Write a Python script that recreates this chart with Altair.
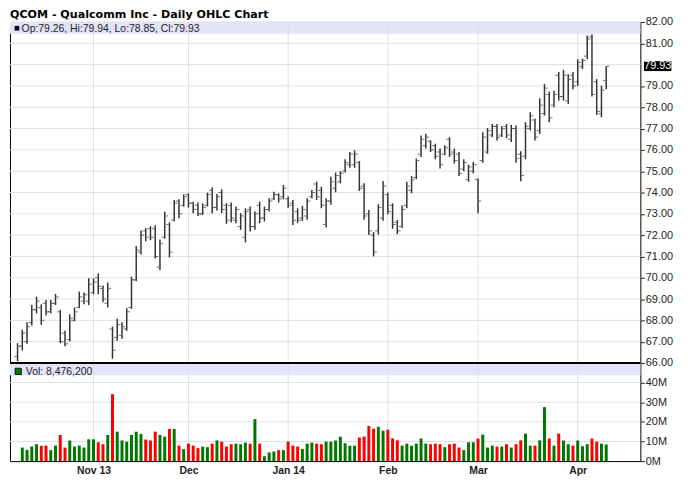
import altair as alt
import pandas as pd

TITLE = "QCOM - Qualcomm Inc - Daily OHLC Chart"
PRICE_LEGEND = "Op:79.26, Hi:79.94, Lo:78.85, Cl:79.93"
VOL_LEGEND = "Vol: 8,476,200"
LAST_CLOSE = 79.93

# trading-day index 0 = 9 Oct 2013 ... 124 = 9 Apr 2014
high = [66.93, 67.56, 67.91, 68.72, 69.11, 68.75, 68.96, 68.96, 69.24, 68.49,
        67.51, 68.29, 68.60, 69.35, 69.31, 69.97, 69.97, 70.20, 69.63, 69.78,
        67.71, 68.07, 67.91, 68.57, 70.05, 71.49, 72.22, 72.33, 72.42, 72.46,
        71.80, 73.10, 72.60, 73.65, 73.68, 73.91, 73.96, 73.57, 73.53, 73.49,
        73.99, 74.24, 73.93, 74.15, 73.49, 73.53, 73.34, 73.03, 73.26, 73.34,
        73.11, 73.57, 73.34, 73.73, 74.04, 73.96, 74.35, 73.81, 73.65, 73.26,
        73.37, 73.73, 74.12, 74.51, 74.27, 73.73, 74.74, 74.94, 75.00, 75.56,
        75.90, 75.98, 75.47, 74.43, 73.18, 72.14, 73.45, 74.54, 74.00, 73.49,
        72.71, 73.39, 74.51, 74.77, 75.59, 76.68, 76.76, 76.45, 76.29, 76.06,
        76.22, 76.60, 76.06, 75.90, 75.56, 75.31, 75.44, 74.66, 76.83, 77.02,
        77.22, 77.22, 77.11, 77.22, 77.17, 77.14, 75.93, 77.30, 77.77, 77.46,
        78.42, 79.09, 78.73, 78.78, 79.66, 79.76, 79.55, 79.66, 80.25, 80.28,
        81.37, 81.42, 79.32, 79.01, 79.94]
low = [66.08, 66.58, 66.90, 67.76, 68.33, 67.79, 68.23, 68.33, 68.72, 66.93,
       66.78, 67.01, 67.95, 68.57, 68.75, 68.72, 69.22, 69.22, 68.85, 68.60,
       66.20, 67.04, 67.14, 67.51, 68.54, 69.84, 71.09, 71.71, 71.76, 70.90,
       70.36, 71.83, 70.95, 72.64, 72.79, 73.34, 73.29, 73.03, 72.90, 72.95,
       73.34, 73.03, 73.15, 73.03, 72.53, 72.59, 72.56, 72.25, 71.66, 72.17,
       72.25, 72.56, 72.64, 73.11, 73.65, 73.53, 73.68, 73.29, 72.48, 72.56,
       72.67, 72.72, 73.73, 73.65, 73.26, 72.36, 73.42, 74.01, 74.43, 74.94,
       75.16, 75.16, 74.07, 72.72, 72.01, 71.00, 72.02, 72.67, 72.98, 72.30,
       72.04, 72.33, 73.26, 73.96, 74.63, 75.67, 76.06, 75.90, 75.56, 75.13,
       75.75, 75.67, 75.36, 74.77, 75.00, 74.50, 74.90, 73.03, 75.40, 75.82,
       76.60, 76.44, 76.60, 76.55, 76.37, 75.40, 74.53, 75.56, 76.91, 76.44,
       76.75, 77.61, 77.30, 78.00, 78.31, 78.31, 78.15, 78.85, 79.00, 79.79,
       80.25, 78.51, 77.64, 77.53, 78.85]
open_ = [66.30, 66.80, 67.00, 67.90, 68.50, 68.60, 68.80, 68.40, 68.80, 68.40,
         67.40, 67.10, 68.00, 68.60, 68.90, 68.90, 69.30, 70.00, 69.50, 68.80,
         67.60, 67.20, 67.30, 67.60, 68.60, 69.90, 71.20, 72.20, 72.30, 72.30,
         70.50, 71.90, 72.50, 72.70, 73.60, 73.40, 73.90, 73.50, 73.40, 73.00,
         73.40, 74.10, 73.30, 74.00, 73.40, 73.40, 72.70, 72.40, 71.90, 73.20,
         72.40, 73.40, 72.80, 73.20, 73.70, 73.90, 73.80, 73.70, 73.50, 73.10,
         72.80, 72.90, 73.80, 74.40, 74.10, 72.50, 73.60, 74.20, 74.50, 75.00,
         75.30, 75.30, 75.40, 74.30, 73.00, 72.00, 72.20, 72.80, 73.90, 73.40,
         72.60, 72.40, 73.40, 74.10, 74.70, 75.80, 76.20, 76.40, 76.20, 75.90,
         75.80, 76.50, 75.90, 75.80, 75.10, 74.60, 75.00, 74.60, 75.50, 75.90,
         76.70, 77.10, 76.70, 77.10, 76.50, 77.00, 75.80, 75.70, 77.00, 77.40,
         76.90, 77.70, 78.60, 78.10, 79.50, 78.50, 78.30, 79.50, 79.20, 79.90,
         80.40, 81.30, 79.20, 77.70, 79.26]
close = [66.78, 67.40, 67.70, 68.50, 68.90, 68.00, 68.40, 68.80, 69.10, 67.00,
         66.90, 68.10, 68.40, 69.10, 69.20, 69.70, 69.80, 69.60, 69.00, 69.50,
         66.60, 67.80, 67.70, 68.40, 69.90, 71.30, 72.00, 71.90, 71.90, 71.00,
         71.60, 72.90, 71.20, 73.50, 73.00, 73.80, 73.50, 73.20, 73.00, 73.30,
         73.90, 73.30, 73.80, 73.20, 72.70, 72.80, 73.20, 72.90, 73.10, 72.40,
         73.00, 72.80, 73.20, 73.60, 73.90, 73.70, 74.20, 73.40, 72.70, 72.70,
         73.20, 73.60, 74.00, 73.80, 73.40, 73.60, 74.50, 74.80, 74.90, 75.40,
         75.80, 75.80, 74.20, 72.90, 72.20, 71.20, 73.30, 74.30, 73.10, 72.50,
         72.20, 73.20, 74.30, 74.60, 75.50, 76.50, 76.60, 76.00, 75.70, 75.30,
         76.10, 75.80, 75.50, 74.90, 75.40, 75.20, 75.30, 73.60, 76.60, 76.90,
         77.10, 76.60, 77.00, 76.70, 77.00, 75.60, 74.80, 77.10, 77.60, 76.60,
         78.10, 78.90, 77.50, 78.60, 78.50, 79.50, 79.30, 79.00, 80.10, 80.20,
         81.20, 78.60, 77.80, 78.80, 79.93]
# volume in millions of shares (first day not shown)
volume = [None, 6.9, 5.7, 7.4, 8.6, 7.8, 7.9, 5.6, 7.9, 13.3,
          6.9, 10.5, 7.4, 7.9, 6.9, 11.1, 11.1, 9.6, 8.6, 13.3,
          34.1, 15.0, 10.5, 9.9, 13.3, 15.0, 13.8, 11.0, 10.5, 15.0,
          13.3, 12.5, 16.4, 16.4, 7.9, 6.1, 8.9, 7.9, 6.6, 7.4,
          7.1, 8.9, 10.5, 9.9, 7.4, 8.6, 8.9, 8.6, 9.4, 8.9,
          21.4, 8.9, 2.5, 4.4, 4.9, 5.6, 5.6, 9.9, 7.9, 7.4,
          6.2, 8.9, 9.4, 8.9, 8.6, 9.9, 9.9, 10.5, 12.4, 9.1,
          7.8, 7.9, 12.0, 12.5, 17.9, 16.5, 17.5, 15.5, 16.0, 11.6,
          10.6, 7.9, 8.9, 7.8, 8.9, 11.5, 8.9, 8.6, 8.9, 8.6,
          7.1, 8.6, 8.9, 6.9, 5.6, 9.6, 9.6, 11.5, 13.5, 6.9,
          7.9, 7.4, 7.4, 8.6, 6.9, 8.6, 10.6, 14.0, 7.9, 7.9,
          10.6, 27.5, 11.5, 7.9, 14.0, 10.5, 8.6, 7.9, 10.5, 7.6,
          8.6, 11.5, 9.9, 8.9, 8.48]

month_pos = [16, 36, 57, 78, 97, 118]
month_labels = ["Nov 13", "Dec", "Jan 14", "Feb", "Mar", "Apr"]
price_grid = list(range(66, 83))
price_labels = [66, 67, 68, 69, 70, 71, 72, 73, 74, 75, 76, 77, 78, 79, 81, 82]
vol_ticks = [0, 10, 20, 30, 40]
vol_grid = [10, 20, 30, 40]

W, H, PH = 636, 443, 344
GREEN, RED = "#007700", "#ff0000"
BAR = "#333333"
LAV = "#e3e3fa"
GRID = "#e0e0e0"

df = pd.DataFrame({"i": list(range(len(high))), "open": open_, "high": high,
                   "low": low, "close": close, "volume": volume})

xs = alt.Scale(domain=[-0.55, 130.15], nice=False, zero=False)
ps = alt.Scale(domain=[66, 82], range=[PH, 0], nice=False, zero=False)
vs = alt.Scale(domain=[0, 50], range=[H, PH], nice=False, zero=False)

label_expr = " : ".join(f"datum.value == {p} ? '{l}'" for p, l in zip(month_pos, month_labels)) + " : ''"
xaxis = alt.Axis(values=month_pos, labelExpr=label_expr, grid=False, ticks=False, tickSize=0,
                 domain=False, labelFontWeight="bold", labelFontSize=10.5, labelPadding=4.5,
                 labelFont="Liberation Sans", labelColor="#222", title=None, labelFlush=False,
                 orient="bottom")


def X(field):
    return alt.X(field, type="quantitative", scale=xs, axis=xaxis)


price_axis = alt.Axis(orient="right", values=price_labels, format=".2f", grid=False, domain=False,
                      tickSize=4, tickColor="#222", labelPadding=1, labelFontSize=11,
                      labelFont="Liberation Sans", labelColor="#222", title=None, labelFlush=False)
vol_axis = alt.Axis(orient="right", values=vol_ticks, labelExpr="datum.value + 'M'", grid=False,
                    domain=False, tickSize=4, tickColor="#222", labelPadding=1, labelFontSize=11,
                    labelFont="Liberation Sans", labelColor="#222", title=None, labelFlush=False)

price_band = alt.Chart(df.head(1)).mark_rect(color=LAV).encode(
    y=alt.YDatum(82, type="quantitative", scale=ps, axis=None), y2=alt.Y2Datum(81.45),
    x=alt.value(0), x2=alt.value(W))
vol_band = alt.Chart(df.head(1)).mark_rect(color=LAV).encode(
    y=alt.YDatum(50, type="quantitative", scale=vs, axis=None), y2=alt.Y2Datum(43.8),
    x=alt.value(0), x2=alt.value(W))

pgrid = alt.Chart(pd.DataFrame({"p": price_grid})).mark_rule(color=GRID, strokeWidth=1).encode(
    y=alt.Y("p:Q", scale=ps, axis=None), x=alt.value(0), x2=alt.value(W))
vgrid = alt.Chart(pd.DataFrame({"v": vol_grid})).mark_rule(color=GRID, strokeWidth=1).encode(
    y=alt.Y("v:Q", scale=vs, axis=None), x=alt.value(0), x2=alt.value(W))
mgrid = alt.Chart(pd.DataFrame({"m": month_pos})).mark_rule(color=GRID, strokeWidth=1).encode(
    x=X("m"), y=alt.value(0), y2=alt.value(H))

vol_bars = alt.Chart(df).transform_filter("isValid(datum.volume)").transform_calculate(
    dir="datum.close >= datum.open ? 'up' : 'down'").mark_bar(size=3).encode(
    x=X("i"), y=alt.Y("volume:Q", scale=vs, axis=vol_axis),
    color=alt.Color("dir:N", scale=alt.Scale(domain=["up", "down"], range=[GREEN, RED]), legend=None))

hl = alt.Chart(df).mark_rule(color=BAR, strokeWidth=1.5).encode(
    x=X("i"), y=alt.Y("low:Q", scale=ps, axis=price_axis), y2="high:Q")
op = alt.Chart(df).mark_tick(orient="horizontal", size=2.5, thickness=1, color=BAR, xOffset=-2).encode(
    x=X("i"), y=alt.Y("open:Q", scale=ps, axis=None))
cl = alt.Chart(df).mark_tick(orient="horizontal", size=2.5, thickness=1, color=BAR, xOffset=2).encode(
    x=X("i"), y=alt.Y("close:Q", scale=ps, axis=None))

sep = alt.Chart(df.head(1)).mark_rule(color="black", strokeWidth=2).encode(
    y=alt.YDatum(66, type="quantitative", scale=ps, axis=None), x=alt.value(0), x2=alt.value(W))

one = pd.DataFrame({"t": [TITLE], "pl": [PRICE_LEGEND], "vl": [VOL_LEGEND], "last": [LAST_CLOSE],
                    "lt": [f"{LAST_CLOSE:.2f}"]})

title = alt.Chart(one).mark_text(align="left", baseline="alphabetic", font="DejaVu Sans",
                                 fontWeight="bold", fontSize=11.2, color="black").encode(
    text="t:N", x=alt.value(0), y=alt.value(-4))
p_sq = alt.Chart(one).mark_point(shape="square", filled=True, size=22, color="black", opacity=1).encode(
    x=alt.value(7), y=alt.value(6.3))
p_txt = alt.Chart(one).mark_text(align="left", baseline="middle", font="Liberation Sans", fontSize=10.5,
                                 color="#222").encode(text="pl:N", x=alt.value(11.7), y=alt.value(6.7))
v_sq = alt.Chart(one).mark_point(shape="square", filled=True, size=40, fill=GREEN, stroke="black",
                                 strokeWidth=0.8, opacity=1).encode(x=alt.value(8.3), y=alt.value(352.5))
v_txt = alt.Chart(one).mark_text(align="left", baseline="middle", font="Liberation Sans", fontSize=10.5,
                                 color="#222").encode(text="vl:N", x=alt.value(16), y=alt.value(352.7))

box = alt.Chart(one).mark_point(shape="M-1,-0.362L1,-0.362L1,0.362L-1,0.362Z", filled=True, size=762,
                                color="black", opacity=1).encode(
    x=alt.value(653.5), y=alt.Y("last:Q", scale=ps, axis=None))
box_txt = alt.Chart(one).mark_text(align="center", baseline="middle", font="Liberation Sans",
                                   fontSize=11, color="white").encode(
    text="lt:N", x=alt.value(653.5), y=alt.Y("last:Q", scale=ps, axis=None))

chart = alt.layer(price_band, vol_band, pgrid, vgrid, mgrid, vol_bars, hl, op, cl, sep,
                  p_sq, p_txt, v_sq, v_txt, box, box_txt, title).resolve_scale(
    y="independent").properties(
    width=W, height=H, autosize=alt.AutoSizeParams(type="none"),
    padding={"left": 2, "top": 12, "right": 40, "bottom": 25},
    background="white").configure_view(stroke="black", strokeWidth=1)

chart.save("out.html", embed_options={"renderer": "svg", "actions": False})
